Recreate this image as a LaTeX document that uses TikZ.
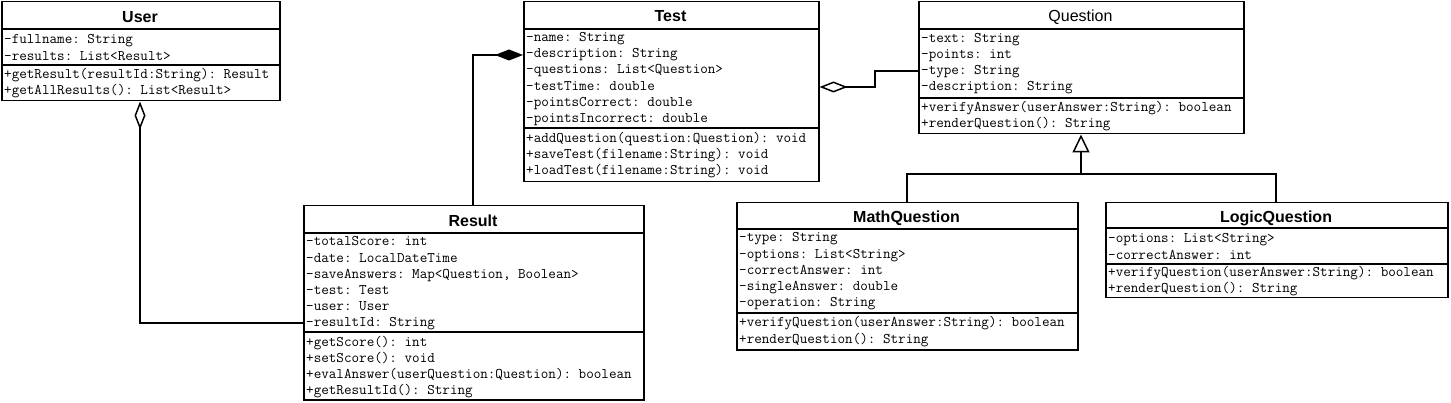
\documentclass[tikz,border=0pt]{standalone}
\usepackage{fontspec}
\newfontfamily\titlefont{Liberation Sans}
\usetikzlibrary{arrows.meta}
\tikzset{
  clsbox/.style={draw, line width=1.5pt, anchor=north west, inner sep=0pt},
  divline/.style={line width=1.5pt},
  ttitle/.style={font=\titlefont\bfseries\fontsize{16}{16}\selectfont, anchor=base, inner sep=0pt},
  ptitle/.style={font=\titlefont\fontsize{16}{16}\selectfont, anchor=base, inner sep=0pt},
  members/.style={font=\ttfamily\frenchspacing\fontsize{14.7}{16.2}\selectfont, align=left, anchor=west, inner sep=0pt},
  conn/.style={line width=1.5pt},
  aggtip/.style={-{Diamond[open, length=28pt, width=11pt, line width=1.5pt]}},
  comptip/.style={-{Diamond[length=28pt, width=11pt]}},
  gentip/.style={-{Triangle[open, length=18pt, width=17pt, line width=1.5pt]}}
}
\begin{document}
\begin{tikzpicture}[x=1pt,y=-1pt]
\useasboundingbox (0,0) rectangle (1451,403);

% ---------------- User
\node[clsbox, minimum width=278pt, minimum height=99pt] (user) at (1,1) {};
\draw[divline] (1,29) -- (279,29);
\draw[divline] (1,65) -- (279,65);
\node[ttitle] (user-t) at (140,22.5) {User};
\node[members] (user-a) at (4,47.5) {-fullname: String\\-results: List<Result>};
\node[members] (user-m) at (4,83) {+getResult(resultId:String): Result\\+getAllResults(): List<Result>};

% ---------------- Test
\node[clsbox, minimum width=295pt, minimum height=180pt] (test) at (523,1) {};
\draw[divline] (523,29) -- (818,29);
\draw[divline] (523,128) -- (818,128);
\node[ttitle] (test-t) at (670.5,22) {Test};
\node[members] (test-a) at (526,79) {-name: String\\-description: String\\-questions: List<Question>\\-testTime: double\\-pointsCorrect: double\\-pointsIncorrect: double};
\node[members] (test-m) at (526,155) {+addQuestion(question:Question): void\\+saveTest(filename:String): void\\+loadTest(filename:String): void};

% ---------------- Question
\node[clsbox, minimum width=325pt, minimum height=132pt] (question) at (918,1) {};
\draw[divline] (918,29) -- (1243,29);
\draw[divline] (918,98) -- (1243,98);
\node[ptitle] (question-t) at (1080.5,22) {Question};
\node[members] (question-a) at (921,63.5) {-text: String\\-points: int\\-type: String\\-description: String};
\node[members] (question-m) at (921,116) {+verifyAnswer(userAnswer:String): boolean\\+renderQuestion(): String};

% ---------------- Result
\node[clsbox, minimum width=340pt, minimum height=194pt] (result) at (303,205) {};
\draw[divline] (303,233) -- (643,233);
\draw[divline] (303,332) -- (643,332);
\node[ttitle] (result-t) at (473,226.5) {Result};
\node[members] (result-a) at (306,283.5) {-totalScore: int\\-date: LocalDateTime\\-saveAnswers: Map<Question, Boolean>\\-test: Test\\-user: User\\-resultId: String};
\node[members] (result-m) at (306,367) {+getScore(): int\\+setScore(): void\\+evalAnswer(userQuestion:Question): boolean\\+getResultId(): String};

% ---------------- MathQuestion
\node[clsbox, minimum width=341pt, minimum height=147pt] (math) at (736,202) {};
\draw[divline] (736,229) -- (1077,229);
\draw[divline] (736,313) -- (1077,313);
\node[ttitle] (math-t) at (906.5,223) {MathQuestion};
\node[members] (math-a) at (739,271.5) {-type: String\\-options: List<String>\\-correctAnswer: int\\-singleAnswer: double\\-operation: String};
\node[members] (math-m) at (739,331.5) {+verifyQuestion(userAnswer:String): boolean\\+renderQuestion(): String};

% ---------------- LogicQuestion
\node[clsbox, minimum width=342pt, minimum height=95pt] (logic) at (1105,202) {};
\draw[divline] (1105,228) -- (1447,228);
\draw[divline] (1105,264) -- (1447,264);
\node[ttitle] (logic-t) at (1276,222.5) {LogicQuestion};
\node[members] (logic-a) at (1108,246.5) {-options: List<String>\\-correctAnswer: int};
\node[members] (logic-m) at (1108,281) {+verifyQuestion(userAnswer:String): boolean\\+renderQuestion(): String};

% ---------------- connectors
\coordinate (c1) at (140,323);
\draw[conn, aggtip] (result.west |- c1) -- (c1) -- (c1 |- user.south);

\coordinate (c2) at (473,55);
\draw[conn, comptip] (c2 |- result.north) -- (c2) -- (test.west |- c2);

\coordinate (c3) at (875,71);
\coordinate (c4) at (875,87);
\draw[conn, aggtip] (question.west |- c3) -- (c3) -- (c4) -- (test.east |- c4);

\coordinate (c5) at (907,174);
\coordinate (c6) at (1081,174);
\coordinate (c7) at (1276,174);
\draw[conn, gentip] (c5 |- math.north) -- (c5) -- (c6) -- (c6 |- question.south);
\draw[conn] (c7 |- logic.north) -- (c7) -- (c6);
\end{tikzpicture}
\end{document}
